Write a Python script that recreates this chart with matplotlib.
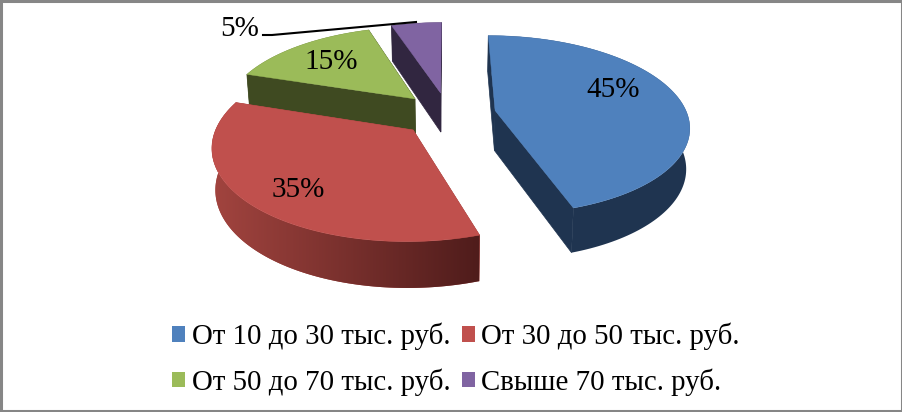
import numpy as np
import matplotlib
matplotlib.use('Agg')
import matplotlib.pyplot as plt
from matplotlib.patches import Polygon, Rectangle
from matplotlib.colors import LinearSegmentedColormap

# data
labels = ['От 10 до 30 тыс. руб.', 'От 30 до 50 тыс. руб.',
          'От 50 до 70 тыс. руб.', 'Свыше 70 тыс. руб.']
values = [45, 35, 15, 5]
pct_text = ['45%', '35%', '15%', '5%']

top_colors = ['#4F81BD', '#C0504D', '#9BBB59', '#8064A2']
side_colors = ['#1F3450', '#A2443F', '#3F4A21', '#312640']

plt.rcParams['font.family'] = ['Liberation Serif', 'DejaVu Serif']

W, H = 903, 412
fig = plt.figure(figsize=(W / 100, H / 100), dpi=100)
ax = fig.add_axes([0, 0, 1, 1])
ax.axis('off')

# perspective of the pie plane
CX, CY = 448, 114
A, B = 192, 88
P = 0.16
S = -0.4
EXPLODE = 0.25
DEPTH = 40
SHRINK = 0.985


def project(x, y):
    w = 1 + P * y
    return CX + (A * x + S * y) / w, CY - B * y / w


def drop(px, py):
    # same point on the underside of the pie
    return CX + (px - CX) * SHRINK, py + DEPTH * (1 + (py - CY) / 800)


edges = np.cumsum([0] + values) / sum(values) * 2 * np.pi
red_wall = LinearSegmentedColormap.from_list('red_wall', ['#A2443F', '#4F1C1B'])

# back slices first
for i in [3, 2, 1, 0]:
    mid = (edges[i] + edges[i + 1]) / 2
    ox, oy = EXPLODE * np.sin(mid), EXPLODE * np.cos(mid)
    t = np.linspace(edges[i], edges[i + 1], 120)
    rx, ry = project(ox + np.sin(t), oy + np.cos(t))
    apx, apy = project(ox, oy)
    bx, by = drop(rx, ry)
    abx, aby = drop(apx, apy)
    z = 10 - i * 3
    c = side_colors[i]

    # cut faces
    for k in [0, -1]:
        ax.add_patch(Polygon([(apx, apy), (rx[k], ry[k]), (bx[k], by[k]), (abx, aby)],
                             closed=True, fc=c, ec=c, lw=0.5, zorder=z))
    # outer wall
    wall = np.column_stack([np.r_[rx, bx[::-1]], np.r_[ry, by[::-1]]])
    wall_patch = Polygon(wall, closed=True, fc=c, ec='none', zorder=z)
    ax.add_patch(wall_patch)
    if i == 1:
        # the red wall darkens left to right
        grad = np.linspace(0, 1, 256).reshape(1, -1)
        im = ax.imshow(grad, cmap=red_wall, aspect='auto', zorder=z + 0.5,
                       extent=(wall[:, 0].min(), wall[:, 0].max(), wall[:, 1].max(), wall[:, 1].min()))
        im.set_clip_path(wall_patch)
    # top face
    pts = np.column_stack([np.r_[apx, rx], np.r_[apy, ry]])
    ax.add_patch(Polygon(pts, closed=True, fc=top_colors[i], ec=top_colors[i],
                         lw=0.3, zorder=z + 1))

ax.set_xlim(0, W)
ax.set_ylim(H, 0)

# labels on slices
label_pos = [(613, 90), (298, 190), (331, 62), (240, 29)]
for txt, (lx, ly) in zip(pct_text, label_pos):
    ax.text(lx, ly, txt, fontsize=21, ha='center', va='center', color='black', zorder=20)
ax.plot([263, 272, 416], [35, 35, 22], color='black', lw=1.5, zorder=19)

# legend, filled by column
order = [0, 2, 1, 3]
handles = [Rectangle((0, 0), 1, 1, fc=top_colors[i], ec='none') for i in order]
ax.legend(handles, [labels[i] for i in order], ncol=2, frameon=False, fontsize=20.8,
          loc='center', bbox_to_anchor=(0.505, 0.128), handlelength=0.45, handleheight=0.45,
          handletextpad=0.22, columnspacing=0.4, labelspacing=0.62, borderpad=0)

# chart frame
ax.add_patch(Rectangle((1, 1), W - 2, H - 2, fc='none', ec='#868686', lw=2.2, zorder=30))

fig.savefig('out.png', dpi=100)
